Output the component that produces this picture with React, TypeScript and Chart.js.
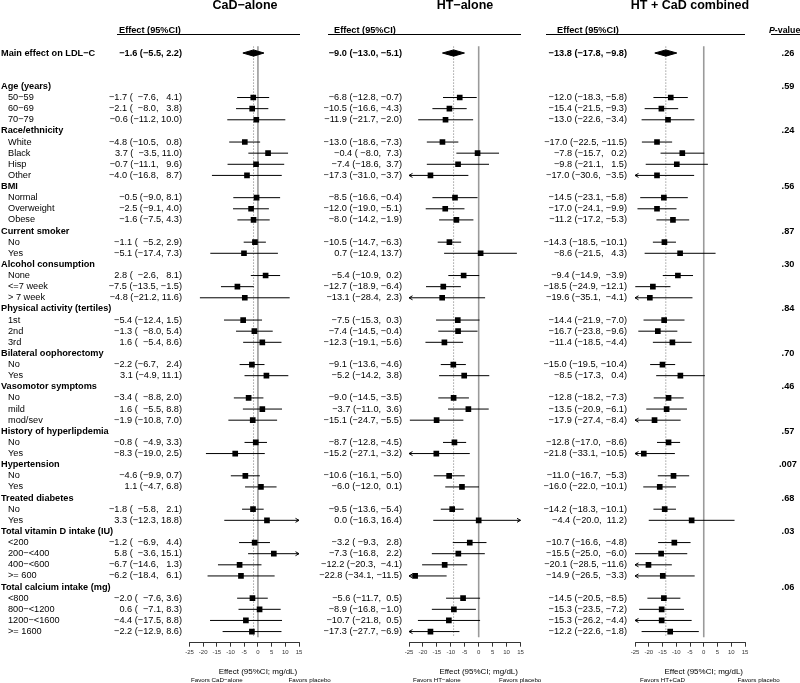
import React, { useEffect, useRef } from "react";
import { Chart, registerables } from "chart.js";

Chart.register(...registerables);

const FONT = '"Liberation Sans", Arial, Helvetica, sans-serif';

// ---------------- labels ----------------
const mainLabel = "Main effect on LDL\u2212C";
const groupHeaders = [
  "Age (years)",
  "Race/ethnicity",
  "BMI",
  "Current smoker",
  "Alcohol consumption",
  "Physical activity (tertiles)",
  "Bilateral oophorectomy",
  "Vasomotor symptoms",
  "History of hyperlipdemia",
  "Hypertension",
  "Treated diabetes",
  "Total vitamin D intake (IU)",
  "Total calcium intake (mg)",
];
const groupLevels = [
  ["50\u221259", "60\u221269", "70\u221279"],
  ["White", "Black", "Hisp", "Other"],
  ["Normal", "Overweight", "Obese"],
  ["No", "Yes"],
  ["None", "<=7 week", "> 7 week"],
  ["1st", "2nd", "3rd"],
  ["No", "Yes"],
  ["No", "mild", "mod/sev"],
  ["No", "Yes"],
  ["No", "Yes"],
  ["No", "Yes"],
  ["<200", "200\u2212<400", "400\u2212<600", ">= 600"],
  ["<800", "800\u2212<1200", "1200\u2212<1600", ">= 1600"],
];
const mainPValue = ".26";
const groupPValues = [".59", ".24", ".56", ".87", ".30", ".84", ".70", ".46", ".57", ".007", ".68", ".03", ".06"];

const panelTitles = ["CaD\u2212alone", "HT\u2212alone", "HT + CaD combined"];
const favorsLeftLabels = ["Favors CaD\u2212alone", "Favors HT\u2212alone", "Favors HT+CaD"];
const favorsRightLabel = "Favors placebo";
const effectHeader = "Effect (95%CI)";
const axisTitle = "Effect (95%CI; mg/dL)";

// ---------------- data ----------------
// CaD-alone
const cadMain = [-1.6, -5.5, 2.2];
const cadEst = [-1.7, -2.1, -0.6, -4.8, 3.7, -0.7, -4.0, -0.5, -2.5, -1.6, -1.1, -5.1, 2.8, -7.5, -4.8, -5.4, -1.3, 1.6, -2.2, 3.1, -3.4, 1.6, -1.9, -0.8, -8.3, -4.6, 1.1, -1.8, 3.3, -1.2, 5.8, -6.7, -6.2, -2.0, 0.6, -4.4, -2.2];
const cadLo = [-7.6, -8.0, -11.2, -10.5, -3.5, -11.1, -16.8, -9.0, -9.1, -7.5, -5.2, -17.4, -2.6, -13.5, -21.2, -12.4, -8.0, -5.4, -6.7, -4.9, -8.8, -5.5, -10.8, -4.9, -19.0, -9.9, -4.7, -5.8, -12.3, -6.9, -3.6, -14.6, -18.4, -7.6, -7.1, -17.5, -12.9];
const cadHi = [4.1, 3.8, 10.0, 0.8, 11.0, 9.6, 8.7, 8.1, 4.0, 4.3, 2.9, 7.3, 8.1, -1.5, 11.6, 1.5, 5.4, 8.6, 2.4, 11.1, 2.0, 8.8, 7.0, 3.3, 2.5, 0.7, 6.8, 2.1, 18.8, 4.4, 15.1, 1.3, 6.1, 3.6, 8.3, 8.8, 8.6];

// HT-alone
const htMain = [-9.0, -13.0, -5.1];
const htEst = [-6.8, -10.5, -11.9, -13.0, -0.4, -7.4, -17.3, -8.5, -12.0, -8.0, -10.5, 0.7, -5.4, -12.7, -13.1, -7.5, -7.4, -12.3, -9.1, -5.2, -9.0, -3.7, -15.1, -8.7, -15.2, -10.6, -6.0, -9.5, 0.0, -3.2, -7.3, -12.2, -22.8, -5.6, -8.9, -10.7, -17.3];
const htLo = [-12.8, -16.6, -21.7, -18.6, -8.0, -18.6, -31.0, -16.6, -19.0, -14.2, -14.7, -12.4, -10.9, -18.9, -28.4, -15.3, -14.5, -19.1, -13.6, -14.2, -14.5, -11.0, -24.7, -12.8, -27.1, -16.1, -12.0, -13.6, -16.3, -9.3, -16.8, -20.3, -34.1, -11.7, -16.8, -21.8, -27.7];
const htHi = [-0.7, -4.3, -2.0, -7.3, 7.3, 3.7, -3.7, -0.4, -5.1, -1.9, -6.3, 13.7, 0.2, -6.4, 2.3, 0.3, -0.4, -5.6, -4.6, 3.8, -3.5, 3.6, -5.5, -4.5, -3.2, -5.0, 0.1, -5.4, 16.4, 2.8, 2.2, -4.1, -11.5, 0.5, -1.0, 0.5, -6.9];

// HT + CaD combined
const combMain = [-13.8, -17.8, -9.8];
const combEst = [-12.0, -15.4, -13.0, -17.0, -7.8, -9.8, -17.0, -14.5, -17.0, -11.2, -14.3, -8.6, -9.4, -18.5, -19.6, -14.4, -16.7, -11.4, -15.0, -8.5, -12.8, -13.5, -17.9, -12.8, -21.8, -11.0, -16.0, -14.2, -4.4, -10.7, -15.5, -20.1, -14.9, -14.5, -15.3, -15.3, -12.2];
const combLo = [-18.3, -21.5, -22.6, -22.5, -15.7, -21.1, -30.6, -23.1, -24.1, -17.2, -18.5, -21.5, -14.9, -24.9, -35.1, -21.9, -23.8, -18.5, -19.5, -17.3, -18.2, -20.9, -27.4, -17.0, -33.1, -16.7, -22.0, -18.3, -20.0, -16.6, -25.0, -28.5, -26.5, -20.5, -23.5, -26.2, -22.6];
const combHi = [-5.8, -9.3, -3.4, -11.5, 0.2, 1.5, -3.5, -5.8, -9.9, -5.3, -10.1, 4.3, -3.9, -12.1, -4.1, -7.0, -9.6, -4.4, -10.4, 0.4, -7.3, -6.1, -8.4, -8.6, -10.5, -5.3, -10.1, -10.1, 11.2, -4.8, -6.0, -11.6, -3.3, -8.5, -7.2, -4.4, -1.8];

const axisMin = -25;
const axisMax = 15;
const axisStep = 5;

const SERIES = [
  { main: cadMain, est: cadEst, lo: cadLo, hi: cadHi },
  { main: htMain, est: htEst, lo: htLo, hi: htHi },
  { main: combMain, est: combEst, lo: combLo, hi: combHi },
];

// ---------------- layout (pixels) ----------------
const PANELS = [
  { left: 189.5, right: 299, valueX: 182, headerX: 119, lineX0: 117, lineX1: 300, titleX: 245, favorsRightX: 288.5, pad: "\u2007" },
  { left: 409, right: 520.5, valueX: 402, headerX: 334, lineX0: 328, lineX1: 521, titleX: 465, favorsRightX: 499, pad: " " },
  { left: 635, right: 745, valueX: 627, headerX: 557, lineX0: 546, lineX1: 745, titleX: 690, favorsRightX: 737.5, pad: " " },
];

// ---------------- row structure ----------------
const MAIN_ROW = 0;
const FIRST_GROUP_ROW = 3;
const headerRows: number[] = [];
const levelRows: number[] = [];
const levelGroup: number[] = [];
const levelNames: string[] = [];
(() => {
  let r = FIRST_GROUP_ROW;
  groupLevels.forEach((lv, g) => {
    headerRows.push(r);
    r++;
    lv.forEach((name) => {
      levelRows.push(r);
      levelGroup.push(g);
      levelNames.push(name);
      r++;
    });
  });
})();
const LAST_ROW = levelRows[levelRows.length - 1];

const fmt = (v: number) => (v < 0 ? "\u2212" : "") + Math.abs(v).toFixed(1);
const padTo = (s: string, n: number, c: string) => (s.length < n ? c.repeat(n - s.length) + s : s);

function ciTexts(est: number[], lo: number[], hi: number[], padChar: string): string[] {
  const out: string[] = [];
  const loMax: number[] = [];
  const hiMax: number[] = [];
  levelGroup.forEach((g, i) => {
    loMax[g] = Math.max(loMax[g] || 0, fmt(lo[i]).length);
    hiMax[g] = Math.max(hiMax[g] || 0, fmt(hi[i]).length);
  });
  levelGroup.forEach((g, i) => {
    out.push(`${fmt(est[i])} (${padTo(fmt(lo[i]), loMax[g], padChar)}, ${padTo(fmt(hi[i]), hiMax[g], padChar)})`);
  });
  return out;
}

function makePlugin(p: number) {
  const P = PANELS[p];
  const S = SERIES[p];
  const texts = ciTexts(S.est, S.lo, S.hi, P.pad);
  const mainText = `${fmt(S.main[0])} (${fmt(S.main[1])}, ${fmt(S.main[2])})`;
  return {
    id: "panelText" + p,
    afterDatasetsDraw(chart: any) {
      const ctx = chart.ctx as CanvasRenderingContext2D;
      const xs = chart.scales.x;
      const ys = chart.scales.y;
      ctx.save();
      ctx.strokeStyle = "#000";
      ctx.lineWidth = 1;
      levelRows.forEach((r, i) => {
        const y = ys.getPixelForValue(r);
        if (S.lo[i] < axisMin) {
          const x = xs.getPixelForValue(axisMin);
          ctx.beginPath();
          ctx.moveTo(x + 3.5, y - 2);
          ctx.lineTo(x, y);
          ctx.lineTo(x + 3.5, y + 2);
          ctx.stroke();
        }
        if (S.hi[i] > axisMax) {
          const x = xs.getPixelForValue(axisMax);
          ctx.beginPath();
          ctx.moveTo(x - 3.5, y - 2);
          ctx.lineTo(x, y);
          ctx.lineTo(x - 3.5, y + 2);
          ctx.stroke();
        }
      });
      ctx.restore();
    },
    afterDraw(chart: any) {
      const ctx = chart.ctx as CanvasRenderingContext2D;
      const xs = chart.scales.x;
      const ys = chart.scales.y;
      ctx.save();
      ctx.fillStyle = "#000";
      ctx.textBaseline = "middle";

      // title
      ctx.font = `bold 12.5px ${FONT}`;
      ctx.textAlign = "center";
      ctx.fillText(panelTitles[p], P.titleX, 6);

      // effect header
      ctx.font = `bold 9.2px ${FONT}`;
      ctx.textAlign = "left";
      ctx.fillText(effectHeader, P.headerX, 30.5);
      ctx.fillRect(P.lineX0, 34, P.lineX1 - P.lineX0, 1);

      // values
      ctx.textAlign = "right";
      ctx.font = `bold 9.2px ${FONT}`;
      ctx.fillText(mainText, P.valueX, ys.getPixelForValue(MAIN_ROW));
      ctx.font = `9.2px ${FONT}`;
      levelRows.forEach((r, i) => {
        ctx.fillText(texts[i], P.valueX, ys.getPixelForValue(r));
      });

      // bottom labels
      ctx.textAlign = "center";
      ctx.font = `8px ${FONT}`;
      ctx.fillText(axisTitle, xs.getPixelForValue(0), 672);
      ctx.font = `6.2px ${FONT}`;
      ctx.fillText(favorsLeftLabels[p], xs.getPixelForValue(-15), 680.5);
      ctx.textAlign = "left";
      ctx.fillText(favorsRightLabel, P.favorsRightX, 680.5);

      if (p === 0) {
        // row labels
        ctx.textAlign = "left";
        ctx.font = `bold 9.2px ${FONT}`;
        ctx.fillText(mainLabel, 1, ys.getPixelForValue(MAIN_ROW));
        groupHeaders.forEach((h, g) => ctx.fillText(h, 1, ys.getPixelForValue(headerRows[g])));
        ctx.font = `9.2px ${FONT}`;
        levelNames.forEach((n, i) => ctx.fillText(n, 8, ys.getPixelForValue(levelRows[i])));
      }
      if (p === 2) {
        // P-values
        ctx.textAlign = "left";
        ctx.font = `italic bold 8.8px ${FONT}`;
        ctx.fillText("P", 769, 30.5);
        const w = ctx.measureText("P").width;
        ctx.font = `bold 8.8px ${FONT}`;
        ctx.fillText("-value", 769 + w, 30.5);
        ctx.fillRect(771, 34, 29, 1);
        ctx.font = `bold 9.2px ${FONT}`;
        ctx.textAlign = "center";
        ctx.fillText(mainPValue, 788, ys.getPixelForValue(MAIN_ROW));
        groupPValues.forEach((pv, g) => ctx.fillText(pv, 788, ys.getPixelForValue(headerRows[g])));
      }
      ctx.restore();
    },
  };
}

function makeConfig(p: number): any {
  const P = PANELS[p];
  const S = SERIES[p];
  const DH = 0.28;
  const datasets: any[] = [];
  datasets.push({
    data: [{ x: 0, y: -0.6 }, { x: 0, y: LAST_ROW + 0.5 }],
    borderColor: "#9a9a9a", borderWidth: 1.6, pointRadius: 0, order: 5,
  });
  datasets.push({
    data: [{ x: S.main[0], y: -0.6 }, { x: S.main[0], y: LAST_ROW + 0.5 }],
    borderColor: "#8a8a8a", borderWidth: 0.8, borderDash: [1.5, 1.5], pointRadius: 0, order: 4,
  });
  datasets.push({
    data: [{ x: S.main[1], y: MAIN_ROW }, { x: S.main[0], y: MAIN_ROW - DH }, { x: S.main[2], y: MAIN_ROW }],
    borderColor: "#000", borderWidth: 1, pointRadius: 0, fill: false, order: 1,
  });
  datasets.push({
    data: [{ x: S.main[1], y: MAIN_ROW }, { x: S.main[0], y: MAIN_ROW + DH }, { x: S.main[2], y: MAIN_ROW }],
    borderColor: "#000", borderWidth: 1, backgroundColor: "#000", pointRadius: 0, fill: "-1", order: 1,
  });
  levelRows.forEach((r, i) => {
    datasets.push({
      data: [{ x: S.lo[i], y: r }, { x: S.hi[i], y: r }],
      borderColor: "#000", borderWidth: 1, pointRadius: 0, order: 2,
    });
  });
  datasets.push({
    data: levelRows.map((r, i) => ({ x: S.est[i], y: r })),
    showLine: false, pointStyle: "rect", pointRadius: 4, pointHoverRadius: 4,
    pointBackgroundColor: "#000", pointBorderColor: "#000", pointBorderWidth: 0, order: 0,
  });

  return {
    type: "line",
    data: { datasets },
    options: {
      responsive: false,
      animation: false,
      events: [],
      layout: { padding: { left: P.left, right: 800 - P.right, top: 41.9, bottom: 0 } },
      plugins: { legend: { display: false }, tooltip: { enabled: false }, title: { display: false } },
      elements: { line: { tension: 0 } },
      scales: {
        x: {
          type: "linear",
          min: axisMin,
          max: axisMax,
          ticks: { stepSize: axisStep, font: { family: FONT, size: 6 }, color: "#333", padding: 2, maxRotation: 0, autoSkip: false },
          grid: { display: true, drawOnChartArea: false, drawTicks: true, tickLength: 4, color: "#000", lineWidth: 0.8 },
          border: { display: true, color: "#000", width: 0.8 },
          afterFit: (s: any) => { s.height = 40.3; },
        },
        y: { type: "linear", reverse: true, min: -1, max: 53, display: false },
      },
    },
    plugins: [makePlugin(p)],
  };
}

export default function App() {
  const r0 = useRef<HTMLCanvasElement>(null);
  const r1 = useRef<HTMLCanvasElement>(null);
  const r2 = useRef<HTMLCanvasElement>(null);
  const refs = [r0, r1, r2];
  useEffect(() => {
    const charts = refs.map((r, p) => new Chart(r.current as HTMLCanvasElement, makeConfig(p)));
    return () => charts.forEach((c) => c.destroy());
  }, []);
  return (
    <div style={{ position: "fixed", left: 0, top: 0, width: 800, height: 683, background: "#fff" }}>
      {refs.map((r, p) => (
        <canvas
          key={p}
          ref={r}
          width={800}
          height={683}
          style={{ position: "absolute", left: 0, top: 0, width: 800, height: 683 }}
        />
      ))}
    </div>
  );
}
